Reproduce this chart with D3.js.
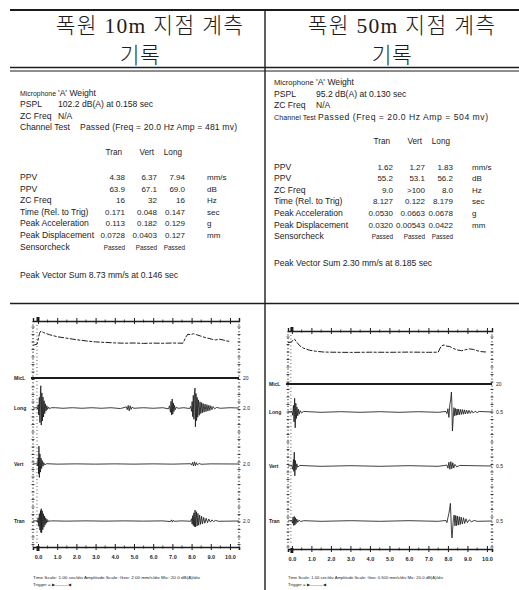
<!DOCTYPE html>
<html><head><meta charset="utf-8">
<script src="https://cdn.jsdelivr.net/npm/d3@7"></script>
<style>
body{margin:0;background:#fff;}
svg{display:block;}
</style></head><body>
<svg id="c" width="519" height="590"></svg>
<script>
// ---------------- DATA ----------------
const titles = ["폭원 10m 지점 계측", "폭원 50m 지점 계측"];
const subtitle = "기록";
const channels = ["Tran", "Vert", "Long"];
const rowLabels = ["PPV", "PPV", "ZC Freq", "Time (Rel. to Trig)", "Peak Acceleration", "Peak Displacement", "Sensorcheck"];
const units = ["mm/s", "dB", "Hz", "sec", "g", "mm", ""];

const leftInfo = [["Microphone", "'A' Weight"], ["PSPL", "102.2 dB(A) at 0.158 sec"], ["ZC Freq", "N/A"]];
const leftChannelTest = ["Channel Test", "Passed (Freq = 20.0 Hz Amp = 481 mv)"];
const leftValues = [
  ["4.38", "6.37", "7.94"], ["63.9", "67.1", "69.0"], ["16", "32", "16"],
  ["0.171", "0.048", "0.147"], ["0.113", "0.182", "0.129"],
  ["0.0728", "0.0403", "0.127"], ["Passed", "Passed", "Passed"]];
const leftPVS = "Peak Vector Sum  8.73 mm/s at 0.146 sec";

const rightInfo = [["Microphone", "'A' Weight"], ["PSPL", "95.2 dB(A) at 0.130 sec"], ["ZC Freq", "N/A"]];
const rightChannelTest = ["Channel Test", "Passed (Freq = 20.0 Hz Amp = 504 mv)"];
const rightValues = [
  ["1.62", "1.27", "1.83"], ["55.2", "53.1", "56.2"], ["9.0", ">100", "8.0"],
  ["8.127", "0.122", "8.179"], ["0.0530", "0.0663", "0.0678"],
  ["0.0320", "0.00543", "0.0422"], ["Passed", "Passed", "Passed"]];
const rightPVS = "Peak Vector Sum  2.30 mm/s at 8.185 sec";

const timeTicks = [0, 1, 2, 3, 4, 5, 6, 7, 8, 9, 10];
const timeTickLabels = ["0.0", "1.0", "2.0", "3.0", "4.0", "5.0", "6.0", "7.0", "8.0", "9.0", "10.0"];
const traceNames = ["MicL", "Long", "Vert", "Tran"];
const leftScaleLabels = ["20", "2.0", "2.0", "2.0"];
const rightScaleLabels = ["20", "0.5", "0.5", "0.5"];
const leftFooter = ["Time Scale: 1.00 sec/div  Amplitude Scale: Geo: 2.00 mm/s/div  Mic: 20.0 dB(A)/div", "Trigger = \u25B6\u2014\u2014\u2014\u25C0"];
const rightFooter = ["Time Scale: 1.00 sec/div  Amplitude Scale: Geo: 0.500 mm/s/div  Mic: 20.0 dB(A)/div", "Trigger = \u25B6\u2014\u2014\u2014\u25C0"];

// waveform samples [time sec, value]  (mic in dB(A), geophones in mm/s)
const micLeft = [[-0.25,88],[-0.05,89],[0.0,93],[0.08,100],[0.158,102.2],[0.3,100.5],[0.6,98.5],[1.0,96.5],[1.5,95],[2.0,93.5],[2.5,92.3],[3.0,91.3],[3.5,90.8],[4.0,90.3],[4.5,90],[5.0,90.2],[5.5,89.8],[6.0,90.1],[6.5,89.9],[7.0,90.2],[7.55,90],[7.7,96],[7.8,99],[7.95,98.5],[8.1,99.5],[8.25,98.6],[8.45,97.3],[8.65,96],[8.85,95],[9.05,94],[9.25,93.3],[9.45,94],[9.65,93.2],[9.8,92.3],[10.0,91.8]];
const longLeft = [[-0.26,0],[-0.05,0.1],[-0.02,-0.4],[0.01,1.2],[0.04,-2.5],[0.07,3.8],[0.1,-5.2],[0.13,6.9],[0.147,7.94],[0.17,-6.1],[0.2,5.4],[0.23,-4.6],[0.26,3.9],[0.29,-3.2],[0.32,2.6],[0.35,-2.0],[0.38,1.5],[0.42,-1.1],[0.46,0.8],[0.5,-0.5],[0.55,0.3],[0.6,-0.2],[0.7,0.1],[0.9,0.1],[1.3,-0.1],[1.8,0.1],[2.3,-0.1],[2.8,0.1],[3.3,-0.1],[3.8,0.1],[4.3,-0.2],[4.6,0.4],[4.65,-0.6],[4.7,0.9],[4.75,-1.0],[4.8,0.8],[4.85,-0.5],[4.9,0.3],[5.0,-0.1],[5.5,0.1],[6.0,-0.1],[6.5,0.1],[6.8,-0.3],[6.85,0.8],[6.9,-1.5],[6.93,2.4],[6.96,-2.5],[6.99,3.2],[7.02,-2.2],[7.05,1.8],[7.08,-1.3],[7.11,0.9],[7.15,-0.6],[7.2,0.3],[7.3,-0.1],[7.6,0.1],[7.9,-0.2],[7.95,0.6],[8.0,-1.2],[8.03,2.3],[8.06,-3.1],[8.09,4.5],[8.12,-4.0],[8.15,5.8],[8.18,7.1],[8.2,-6.7],[8.23,5.2],[8.26,-4.5],[8.29,3.8],[8.32,-3.3],[8.36,2.9],[8.4,-2.6],[8.44,2.2],[8.48,-2.0],[8.52,1.9],[8.56,-1.7],[8.6,1.6],[8.65,-1.5],[8.7,1.4],[8.75,-1.3],[8.8,1.2],[8.85,-1.1],[8.9,1.0],[8.95,-0.9],[9.0,0.8],[9.06,-0.6],[9.12,0.5],[9.2,-0.3],[9.3,0.2],[9.5,-0.1],[10.0,0.1],[10.47,0]];
const vertLeft = [[-0.26,0],[-0.05,0.1],[-0.02,-0.6],[0.01,2.2],[0.03,-3.5],[0.048,6.37],[0.07,-4.8],[0.1,3.6],[0.13,-2.9],[0.16,2.1],[0.19,-1.6],[0.22,1.2],[0.26,-0.8],[0.3,0.5],[0.35,-0.3],[0.45,0.1],[1.0,-0.05],[2.0,0.05],[3.0,-0.05],[4.0,0.05],[5.0,-0.05],[6.0,0.05],[7.0,-0.05],[7.95,0.1],[8.0,-0.4],[8.05,0.6],[8.1,-0.7],[8.15,0.8],[8.2,-0.6],[8.25,0.5],[8.3,-0.3],[8.4,0.2],[8.5,-0.1],[9.0,0.05],[10.47,0]];
const tranLeft = [[-0.26,0],[-0.05,0.1],[-0.02,-0.5],[0.01,1.1],[0.04,-1.9],[0.07,2.6],[0.1,-3.2],[0.13,3.7],[0.15,-4.1],[0.171,4.38],[0.19,-4.2],[0.22,3.6],[0.25,-3.1],[0.28,2.6],[0.31,-2.2],[0.34,1.8],[0.37,-1.4],[0.4,1.1],[0.43,-0.8],[0.47,0.6],[0.51,-0.4],[0.56,0.2],[0.62,-0.1],[0.7,0.05],[1.5,-0.05],[2.5,0.05],[3.5,-0.05],[4.5,0.05],[5.5,-0.05],[6.5,0.05],[6.9,-0.2],[6.95,0.4],[7.0,-0.4],[7.05,0.3],[7.1,-0.1],[7.5,0.05],[7.95,-0.1],[8.0,0.8],[8.03,-1.1],[8.06,1.9],[8.09,-1.6],[8.12,2.9],[8.15,-2.0],[8.18,3.9],[8.21,-2.1],[8.25,3.3],[8.29,-1.8],[8.33,2.7],[8.37,-1.5],[8.42,2.1],[8.47,-1.2],[8.52,1.7],[8.57,-1.0],[8.63,1.3],[8.69,-0.8],[8.76,1.0],[8.83,-0.6],[8.9,0.7],[8.98,-0.4],[9.06,0.4],[9.15,-0.2],[9.25,0.2],[9.4,-0.1],[10.47,0]];

const micRight = [[-0.2,91.5],[0.0,92.5],[0.05,94],[0.13,95.2],[0.25,92],[0.4,88.5],[0.6,86],[0.9,84],[1.2,83],[1.6,82.2],[2.0,82],[3.0,81.8],[4.0,82],[5.0,81.9],[6.0,82.1],[7.0,81.9],[7.5,82],[7.65,88],[7.8,89.3],[7.95,88],[8.1,87.6],[8.3,85.5],[8.5,84.2],[8.7,83.5],[8.9,84.5],[9.1,85.3],[9.3,84.8],[9.5,83.5],[9.7,82.6],[9.95,82.2]];
const longRight = [[-0.2,0],[0.0,0.05],[0.04,-0.3],[0.08,0.6],[0.11,-0.9],[0.14,1.25],[0.17,-1.45],[0.2,0.8],[0.23,-0.6],[0.26,0.45],[0.3,-0.35],[0.34,0.25],[0.38,-0.2],[0.43,0.12],[0.5,-0.08],[0.6,0.05],[1.5,-0.03],[2.5,0.03],[3.5,-0.03],[4.5,0.03],[5.5,-0.03],[6.5,0.03],[7.5,-0.03],[7.9,0.05],[7.95,-0.15],[8.0,0.3],[8.05,-0.5],[8.1,0.7],[8.14,1.1],[8.179,1.83],[8.2,0.9],[8.23,-1.75],[8.27,-0.6],[8.31,0.4],[8.35,-0.35],[8.39,0.32],[8.43,-0.3],[8.47,0.28],[8.51,-0.27],[8.55,0.26],[8.6,-0.25],[8.65,0.24],[8.7,-0.22],[8.75,0.22],[8.8,-0.2],[8.85,0.2],[8.9,-0.18],[8.96,0.17],[9.02,-0.16],[9.08,0.15],[9.15,-0.13],[9.22,0.12],[9.3,-0.1],[9.4,0.08],[9.5,-0.06],[9.6,0.05],[10.26,0]];
const vertRight = [[-0.2,0],[0.0,0.04],[0.04,-0.3],[0.08,0.6],[0.1,-0.5],[0.122,1.27],[0.15,-0.9],[0.18,0.5],[0.21,-0.35],[0.25,0.2],[0.3,-0.12],[0.4,0.05],[1.5,-0.03],[3.0,0.03],[4.5,-0.03],[6.0,0.03],[7.5,-0.03],[7.95,0.08],[8.0,-0.2],[8.05,0.35],[8.1,-0.3],[8.15,0.4],[8.2,-0.25],[8.25,0.3],[8.3,-0.18],[8.36,0.15],[8.45,-0.08],[8.6,0.05],[10.26,0]];
const tranRight = [[-0.2,0],[0.0,0.05],[0.03,-0.2],[0.06,0.35],[0.09,-0.4],[0.12,0.42],[0.15,-0.38],[0.18,0.3],[0.21,-0.25],[0.25,0.18],[0.3,-0.12],[0.36,0.08],[0.45,-0.05],[0.6,0.03],[1.5,-0.03],[3.0,0.03],[4.5,-0.03],[6.0,0.03],[7.5,-0.03],[7.9,0.05],[7.95,-0.15],[8.0,0.3],[8.05,0.7],[8.09,1.1],[8.127,1.62],[8.15,0.6],[8.18,-0.9],[8.21,-1.55],[8.24,-0.8],[8.28,0.2],[8.32,0.55],[8.36,-0.45],[8.4,0.5],[8.44,-0.42],[8.48,0.45],[8.53,-0.38],[8.58,0.4],[8.63,-0.33],[8.68,0.35],[8.74,-0.28],[8.8,0.3],[8.86,-0.22],[8.93,0.2],[9.0,-0.15],[9.1,0.12],[9.2,-0.08],[9.35,0.05],[9.5,-0.03],[10.26,0]];

// ---------------- DRAWING ----------------
const svg = d3.select("#c");
const INK = "#1c1c1c";
const SANS = "'Liberation Sans', Arial, sans-serif";

// frame lines
svg.append("line").attr("x1", 10).attr("x2", 519).attr("y1", 10).attr("y2", 10).attr("stroke", INK).attr("stroke-width", 2.2);
svg.append("line").attr("x1", 10).attr("x2", 519).attr("y1", 67.5).attr("y2", 67.5).attr("stroke", INK).attr("stroke-width", 1.6);
svg.append("line").attr("x1", 10).attr("x2", 519).attr("y1", 71).attr("y2", 71).attr("stroke", INK).attr("stroke-width", 1);
svg.append("line").attr("x1", 10).attr("x2", 519).attr("y1", 303.5).attr("y2", 303.5).attr("stroke", INK).attr("stroke-width", 1.4);
svg.append("line").attr("x1", 265).attr("x2", 265).attr("y1", 10).attr("y2", 590).attr("stroke", INK).attr("stroke-width", 1.4);

// titles
const titleFont = "'Liberation Serif', 'Noto Sans CJK KR', serif";
[[150, 402], [140, 392]].forEach((xs, row) => {
  xs.forEach((x, i) => {
    svg.append("text").attr("x", x).attr("y", row === 0 ? 33 : 63)
      .attr("text-anchor", "middle").attr("font-family", titleFont)
      .attr("font-size", 21.5).attr("font-weight", 300).attr("fill", INK)
      .attr("letter-spacing", row === 0 ? 1.3 : 0.5)
      .text(row === 0 ? titles[i] : subtitle);
  });
});

// info tables
function drawInfo(cfg, info, chanTest, values, pvs) {
  const g = svg.append("g").attr("font-family", SANS).attr("font-size", 8.6).attr("fill", INK);
  info.forEach((r, i) => {
    const y = cfg.infoY + i * 11.6;
    g.append("text").attr("x", cfg.labelX).attr("y", y)
      .attr("font-size", i === 0 ? cfg.micFs : 8.6).text(r[0]);
    g.append("text").attr("x", cfg.valueX).attr("y", y).text(r[1]);
  });
  const yc = cfg.infoY + 3 * 11.6;
  g.append("text").attr("x", cfg.labelX).attr("y", yc).attr("font-size", cfg.chanFs).text(chanTest[0]);
  g.append("text").attr("x", cfg.chanX).attr("y", yc)
    .attr("textLength", cfg.chanValW).attr("lengthAdjust", "spacing").text(chanTest[1]);
  channels.forEach((c, j) => {
    g.append("text").attr("x", cfg.cols[j] - 3).attr("y", cfg.headY).attr("text-anchor", "end")
      .attr("font-size", 8.2).text(c);
  });
  rowLabels.forEach((lab, i) => {
    const y = cfg.rowY + i * 11.6;
    g.append("text").attr("x", cfg.labelX).attr("y", y).text(lab);
    values[i].forEach((v, j) => {
      g.append("text").attr("x", cfg.cols[j]).attr("y", y).attr("text-anchor", "end")
        .attr("font-size", v === "Passed" ? 6.4 : 8).text(v);
    });
    g.append("text").attr("x", cfg.unitX).attr("y", y).attr("font-size", 8).text(units[i]);
  });
  g.append("text").attr("x", cfg.labelX).attr("y", cfg.pvsY).text(pvs);
}
drawInfo({labelX: 20, valueX: 58, chanX: 80, infoY: 95.5, headY: 155, rowY: 180, cols: [125, 157, 185], unitX: 207, pvsY: 278,
  micFs: 6.9, chanFs: 8.6, chanValW: 157},
  leftInfo, leftChannelTest, leftValues, leftPVS);
drawInfo({labelX: 274, valueX: 316, chanX: 318, infoY: 85, headY: 143.5, rowY: 169.5, cols: [393, 425, 453], unitX: 472, pvsY: 266,
  micFs: 7.6, chanFs: 7.2, chanValW: 170},
  rightInfo, rightChannelTest, rightValues, rightPVS);

// waveform charts
function drawChart(cfg, traces, scaleLabels, footer) {
  const g = svg.append("g");
  const x = d3.scaleLinear().domain(cfg.tDomain).range([cfg.xL, cfg.xR]);
  const yMic = d3.scaleLinear().domain(cfg.micDomain).range([cfg.micSep, cfg.top]);
  const geoY = cfg.bases.map(b => d3.scaleLinear().domain([-cfg.geoMax, cfg.geoMax]).range([b + cfg.geoHalf, b - cfg.geoHalf]));

  // dotted side borders
  [cfg.xL, cfg.xR].forEach(xx => {
    g.append("line").attr("x1", xx).attr("x2", xx).attr("y1", cfg.top).attr("y2", cfg.bottom)
      .attr("stroke", INK).attr("stroke-width", 1).attr("stroke-dasharray", "1.2,2.2");
    d3.range(cfg.top + 6, cfg.bottom, 7.5).forEach(yy => {
      g.append("line").attr("x1", xx - 1.5).attr("x2", xx + 1.5).attr("y1", yy).attr("y2", yy)
        .attr("stroke", INK).attr("stroke-width", 0.8);
    });
  });
  // trigger dotted line
  g.append("line").attr("x1", x(0) - 1).attr("x2", x(0) - 1).attr("y1", cfg.top + 4).attr("y2", cfg.bottom - 4)
    .attr("stroke", INK).attr("stroke-width", 0.9).attr("stroke-dasharray", "1,2.5").attr("opacity", 0.8);

  // top axis
  g.append("g").attr("transform", `translate(0,${cfg.top})`)
    .call(d3.axisTop(x).tickValues(timeTicks).tickSize(3).tickFormat(""));
  g.append("g").attr("transform", `translate(0,${cfg.top})`)
    .call(d3.axisBottom(x).tickValues(timeTicks).tickSize(3).tickFormat("")).select(".domain").remove();
  // bottom axis with labels
  const botAx = g.append("g").attr("transform", `translate(0,${cfg.bottom})`)
    .call(d3.axisBottom(x).tickValues(timeTicks).tickSize(3).tickPadding(5)
      .tickFormat((d, i) => timeTickLabels[i]));
  g.append("g").attr("transform", `translate(0,${cfg.bottom})`)
    .call(d3.axisTop(x).tickValues(timeTicks).tickSize(3).tickFormat("")).select(".domain").remove();
  // minor ticks
  const minor = d3.range(0, 10.01, 0.5).filter(t => t % 1 !== 0);
  [cfg.top, cfg.bottom].forEach(yy => {
    g.selectAll(null).data(minor).join("line")
      .attr("x1", d => x(d)).attr("x2", d => x(d)).attr("y1", yy - 1.5).attr("y2", yy + 1.5)
      .attr("stroke", INK).attr("stroke-width", 0.8);
  });
  g.selectAll(".domain").attr("stroke", INK).attr("stroke-width", 1.4);
  g.selectAll(".tick line").attr("stroke", INK).attr("stroke-width", 1);
  botAx.selectAll("text").attr("font-family", SANS).attr("font-size", 5.5).attr("font-weight", "bold").attr("fill", INK);
  botAx.select(".domain").attr("stroke-width", 1.6);
  // trigger markers
  g.append("rect").attr("x", x(0) - 1.5).attr("y", cfg.top - 4).attr("width", 3).attr("height", 5).attr("fill", INK);
  g.append("rect").attr("x", x(0) - 1.5).attr("y", cfg.bottom - 1).attr("width", 3).attr("height", 5).attr("fill", INK);

  // mic separator
  g.append("line").attr("x1", cfg.xL - 2).attr("x2", cfg.xR).attr("y1", cfg.micSep).attr("y2", cfg.micSep)
    .attr("stroke", INK).attr("stroke-width", 2);

  // traces
  const micLine = d3.line().x(d => x(d[0])).y(d => yMic(d[1]));
  g.append("path").attr("d", micLine(traces[0])).attr("fill", "none").attr("stroke", INK)
    .attr("stroke-width", 1).attr("stroke-dasharray", "6,1.5,3,1.5");
  traces.slice(1).forEach((tr, i) => {
    const ln = d3.line().x(d => x(d[0])).y(d => geoY[i](d[1]));
    g.append("path").attr("d", ln(tr)).attr("fill", "none").attr("stroke", INK)
      .attr("stroke-width", 0.85).attr("stroke-linejoin", "round");
  });

  // channel labels
  const labelYs = [cfg.micSep].concat(cfg.bases);
  labelYs.forEach((yy, i) => {
    g.append("text").attr("x", cfg.xL - 19).attr("y", yy + 2).attr("font-family", SANS)
      .attr("font-size", 5).attr("font-weight", "bold").attr("fill", INK).text(traceNames[i]);
    g.append("text").attr("x", cfg.xR + 4).attr("y", yy + 2).attr("font-family", SANS)
      .attr("font-size", 5).attr("fill", INK).text(scaleLabels[i]);
  });

  // footer
  footer.forEach((f, i) => {
    g.append("text").attr("x", cfg.xL).attr("y", 579 + i * 6.5).attr("font-family", SANS)
      .attr("font-size", 4.4).attr("fill", INK)
      .attr("textLength", i === 0 ? cfg.footW : null).attr("lengthAdjust", "spacingAndGlyphs").text(f);
  });
}

drawChart({xL: 33, xR: 239, tDomain: [-0.26, 10.47], top: 321, micSep: 378, bottom: 547,
  micDomain: [55.2, 112.2], bases: [408, 464, 521], geoMax: 10, geoHalf: 28, footW: 167},
  [micLeft, longLeft, vertLeft, tranLeft], leftScaleLabels, leftFooter);
drawChart({xL: 288, xR: 492, tDomain: [-0.2, 10.26], top: 331, micSep: 384, bottom: 549,
  micDomain: [50.2, 103.2], bases: [412, 466, 521], geoMax: 2.5, geoHalf: 27.25, footW: 155},
  [micRight, longRight, vertRight, tranRight], rightScaleLabels, rightFooter);
</script>
</body></html>
